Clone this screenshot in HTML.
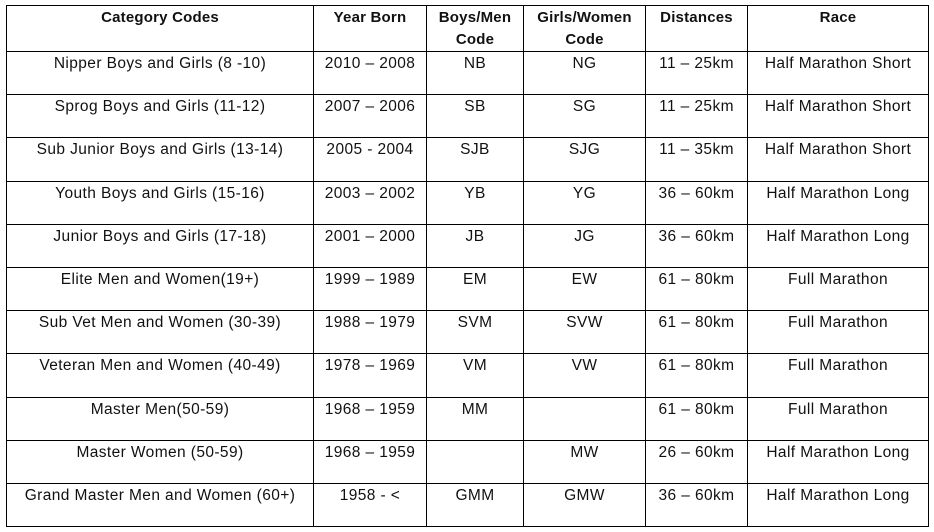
<!DOCTYPE html>
<html><head><meta charset="utf-8"><style>
body{margin:0;width:934px;height:532px;background:#fff;overflow:hidden;font-family:"Liberation Sans",sans-serif;}
table{position:absolute;left:6px;top:5px;border-collapse:collapse;table-layout:fixed;}
td,th{border:1.3px solid #000;text-align:center;vertical-align:top;font-size:15.5px;letter-spacing:0.4px;color:#111;padding:3px 0 0;line-height:18px;height:39px;box-sizing:border-box;white-space:nowrap;overflow:hidden;}
tr{height:43.2px;}
th{font-weight:bold;font-size:15px;letter-spacing:0.2px;line-height:22px;padding-top:1px;height:45px;}
</style></head><body>
<table>
<colgroup><col style="width:307px"><col style="width:113px"><col style="width:97px"><col style="width:122px"><col style="width:102px"><col style="width:181px"></colgroup>
<tr style="height:45px"><th>Category Codes</th><th>Year Born</th><th>Boys/Men<br>Code</th><th>Girls/Women<br>Code</th><th>Distances</th><th>Race</th></tr>
<tr><td>Nipper Boys and Girls (8 -10)</td><td>2010 – 2008</td><td>NB</td><td>NG</td><td>11 – 25km</td><td>Half Marathon Short</td></tr>
<tr><td>Sprog Boys and Girls (11-12)</td><td>2007 – 2006</td><td>SB</td><td>SG</td><td>11 – 25km</td><td>Half Marathon Short</td></tr>
<tr><td>Sub Junior Boys and Girls (13-14)</td><td>2005 - 2004</td><td>SJB</td><td>SJG</td><td>11 – 35km</td><td>Half Marathon Short</td></tr>
<tr><td>Youth Boys and Girls (15-16)</td><td>2003 – 2002</td><td>YB</td><td>YG</td><td>36 – 60km</td><td>Half Marathon Long</td></tr>
<tr><td>Junior Boys and Girls (17-18)</td><td>2001 – 2000</td><td>JB</td><td>JG</td><td>36 – 60km</td><td>Half Marathon Long</td></tr>
<tr><td>Elite Men and Women(19+)</td><td>1999 – 1989</td><td>EM</td><td>EW</td><td>61 – 80km</td><td>Full Marathon</td></tr>
<tr><td>Sub Vet Men and Women (30-39)</td><td>1988 – 1979</td><td>SVM</td><td>SVW</td><td>61 – 80km</td><td>Full Marathon</td></tr>
<tr><td>Veteran Men and Women (40-49)</td><td>1978 – 1969</td><td>VM</td><td>VW</td><td>61 – 80km</td><td>Full Marathon</td></tr>
<tr><td>Master Men(50-59)</td><td>1968 – 1959</td><td>MM</td><td></td><td>61 – 80km</td><td>Full Marathon</td></tr>
<tr><td>Master Women (50-59)</td><td>1968 – 1959</td><td></td><td>MW</td><td>26 – 60km</td><td>Half Marathon Long</td></tr>
<tr><td>Grand Master Men and Women (60+)</td><td>1958 - &lt;</td><td>GMM</td><td>GMW</td><td>36 – 60km</td><td>Half Marathon Long</td></tr>
</table>
</body></html>
